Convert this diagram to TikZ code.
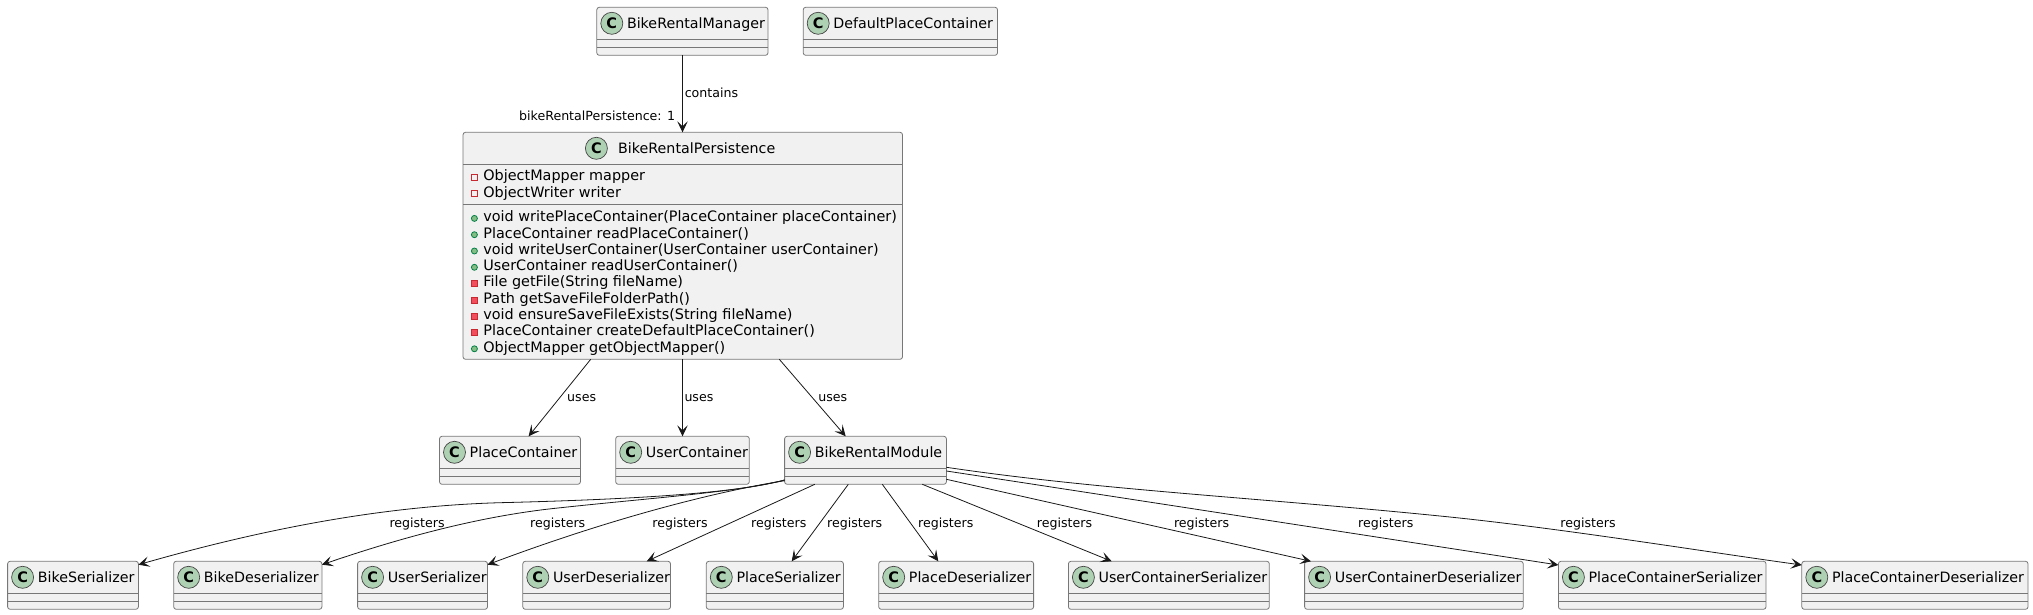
\documentclass[tikz,border=0pt]{standalone}
\usepackage{fontspec}
\setmainfont{DejaVu Sans}
\usetikzlibrary{arrows.meta}
\definecolor{ink}{HTML}{181818}
\definecolor{boxline}{HTML}{777777}
\definecolor{boxfill}{HTML}{F1F1F1}
\definecolor{spotfill}{HTML}{ADD1B2}
\definecolor{privline}{HTML}{C82930}
\definecolor{privfill}{HTML}{F24D5C}
\definecolor{publine}{HTML}{038048}
\definecolor{pubfill}{HTML}{84BE84}
\tikzset{
  x=1pt,y=-1pt,
  classbox/.style={draw=boxline,fill=boxfill,line width=0.8pt,rounded corners=2.5pt,inner sep=0pt,outer sep=0pt,anchor=north west},
  spot/.style={circle,draw=ink!80,fill=spotfill,line width=0.7pt,minimum size=22pt,inner sep=0pt,font=\fontsize{14.5}{14.5}\selectfont\bfseries,text=black},
  ctext/.style={anchor=base west,inner sep=0pt,font=\fontsize{14.25}{16}\selectfont,text=black},
  mtext/.style={anchor=base west,inner sep=0pt,font=\fontsize{14.4}{16}\selectfont,text=black},
  lbl/.style={anchor=base west,inner sep=0pt,font=\fontsize{12.6}{15}\selectfont,text=black},
  sep/.style={draw=boxline,line width=0.8pt},
  conn/.style={draw=ink,line width=0.8pt,-{Stealth[length=11pt,width=10.5pt,inset=5pt,fill=ink]}},
  privf/.style={draw=privline,fill=boxfill,line width=0.8pt,minimum size=6pt,inner sep=0pt},
  privm/.style={draw=privline,fill=privfill,line width=0.8pt,minimum size=6pt,inner sep=0pt},
  pubm/.style={circle,draw=publine,fill=pubfill,line width=0.8pt,minimum size=6pt,inner sep=0pt},
}
\newcommand{\cls}[5]{%
  \pgfmathsetmacro{\bw}{#3-#2}
  \node[classbox,minimum width=\bw pt,minimum height=48pt] (#1) at (#2,#4) {};
  \draw[sep] ([yshift=-32pt]#1.north west) -- ([yshift=-32pt]#1.north east);
  \draw[sep] ([yshift=-40pt]#1.north west) -- ([yshift=-40pt]#1.north east);
  \node[spot] (#1-c) at ([xshift=15pt,yshift=-16pt]#1.north west) {C};
  \node[ctext] (#1-t) at ([xshift=30pt,yshift=-21pt]#1.north west) {#5};
}
\newcommand{\memb}[4]{%
  \node[#2] (m#1i) at (474.4,#3-3.3) {};
  \node[mtext] (m#1) at (483.2,#3) {#4};
}
\begin{document}
\begin{tikzpicture}
\useasboundingbox (0,0) rectangle (2033,615);
\cls{mgr}{596.8}{768}{7.3}{BikeRentalManager}
\cls{dpc}{803.2}{997.5}{7.3}{DefaultPlaceContainer}
% persistence
\node[classbox,minimum width=439.5pt,minimum height=227pt] (per) at (463,132.3) {};
\draw[sep] ([yshift=-32pt]per.north west) -- ([yshift=-32pt]per.north east);
\draw[sep] ([yshift=-72pt]per.north west) -- ([yshift=-72pt]per.north east);
\node[spot] (per-c) at ([xshift=133.4pt,yshift=-16pt]per.north west) {C};
\node[ctext] (per-t) at ([xshift=155pt,yshift=-21pt]per.north west) {BikeRentalPersistence};
\memb{1}{privf}{180.7}{ObjectMapper mapper}
\memb{2}{privf}{197}{ObjectWriter writer}
\memb{3}{pubm}{221.7}{void writePlaceContainer(PlaceContainer placeContainer)}
\memb{4}{pubm}{238}{PlaceContainer readPlaceContainer()}
\memb{5}{pubm}{254.3}{void writeUserContainer(UserContainer userContainer)}
\memb{6}{pubm}{270.6}{UserContainer readUserContainer()}
\memb{7}{privm}{286.9}{File getFile(String fileName)}
\memb{8}{privm}{303.2}{Path getSaveFileFolderPath()}
\memb{9}{privm}{319.5}{void ensureSaveFileExists(String fileName)}
\memb{10}{privm}{335.8}{PlaceContainer createDefaultPlaceContainer()}
\memb{11}{pubm}{352.1}{ObjectMapper getObjectMapper()}
% middle row
\cls{pc}{439.5}{580.4}{436.3}{PlaceContainer}
\cls{uc}{615.7}{749.3}{436.3}{UserContainer}
\cls{mod}{784.6}{946.4}{436.3}{BikeRentalModule}
% bottom row
\cls{bs}{7.6}{138.4}{561.3}{BikeSerializer}
\cls{bd}{173.7}{321.9}{561.3}{BikeDeserializer}
\cls{us}{357.6}{487.5}{561.3}{UserSerializer}
\cls{ud}{522.8}{670.5}{561.3}{UserDeserializer}
\cls{ps}{706.3}{843.4}{561.3}{PlaceSerializer}
\cls{pd}{878.7}{1033.6}{561.3}{PlaceDeserializer}
\cls{ucs}{1068.4}{1269.3}{561.3}{UserContainerSerializer}
\cls{ucd}{1304.6}{1523.2}{561.3}{UserContainerDeserializer}
\cls{pcs}{1558.4}{1766}{561.3}{PlaceContainerSerializer}
\cls{pcd}{1801.8}{2028}{561.3}{PlaceContainerDeserializer}
% connectors
\draw[conn] ([xshift=85.7pt]mgr.south west) -- ([xshift=219.5pt]per.north west);
\draw[conn] ([xshift=127.7pt]per.south west) -- ([xshift=89.1pt]pc.north west);
\draw[conn] ([xshift=219.5pt]per.south west) -- ([xshift=66.8pt]uc.north west);
\draw[conn] ([xshift=316.3pt]per.south west) -- ([xshift=61.1pt]mod.north west);
\draw[conn] ([yshift=4.3pt]mod.south west) .. controls (740,492) and (650,499) .. (500,502.7) .. controls (380,506) and (260,530) .. ([yshift=-3.4pt]bs.north east);
\draw[conn] ([yshift=4.3pt]mod.south west) .. controls (740,492) and (650,498) .. (558,508) .. controls (480,516) and (400,538) .. ([yshift=-3.4pt]bd.north east);
\draw[conn] ([yshift=3.6pt]mod.south west) .. controls (725,490) and (620,515) .. ([yshift=-3.4pt]us.north east);
\draw[conn] ([xshift=30.2pt]mod.south west) -- ([xshift=123.9pt]ud.north west);
\draw[conn] ([xshift=63.7pt]mod.south west) -- ([xshift=85.4pt]ps.north west);
\draw[conn] ([xshift=97.7pt]mod.south west) -- ([xshift=59.6pt]pd.north west);
\draw[conn] ([xshift=137.7pt]mod.south west) -- ([xshift=43.3pt]ucs.north west);
\draw[conn] ([yshift=5pt]mod.south east) -- ([xshift=6.4pt]ucd.north west);
\draw[conn] ([yshift=13.3pt]mod.south east) .. controls (1150,502) and (1350,533) .. ([yshift=-3.7pt]pcs.north west);
\draw[conn] ([yshift=17pt]mod.south east) .. controls (1100,490) and (1250,497) .. (1440,516) .. controls (1560,528) and (1700,551) .. ([yshift=-3.7pt]pcd.north west);
% labels
\node[lbl] (l1) at (684.6,98) {contains};
\node[lbl] (l2) at (519,121) {bikeRentalPersistence: 1};
\node[lbl] (l3) at (567,401.7) {uses};
\node[lbl] (l4) at (684.3,401.7) {uses};
\node[lbl] (l5) at (818.2,401.7) {uses};
\node[lbl] (r1) at (389.3,527) {registers};
\node[lbl] (r2) at (529.9,527) {registers};
\node[lbl] (r3) at (652.2,527) {registers};
\node[lbl] (r4) at (751,527) {registers};
\node[lbl] (r5) at (826.9,527) {registers};
\node[lbl] (r6) at (918,527) {registers};
\node[lbl] (r7) at (1036.7,527) {registers};
\node[lbl] (r8) at (1173.8,527) {registers};
\node[lbl] (r9) at (1358,527) {registers};
\node[lbl] (r10) at (1560.2,527) {registers};
\end{tikzpicture}
\end{document}
